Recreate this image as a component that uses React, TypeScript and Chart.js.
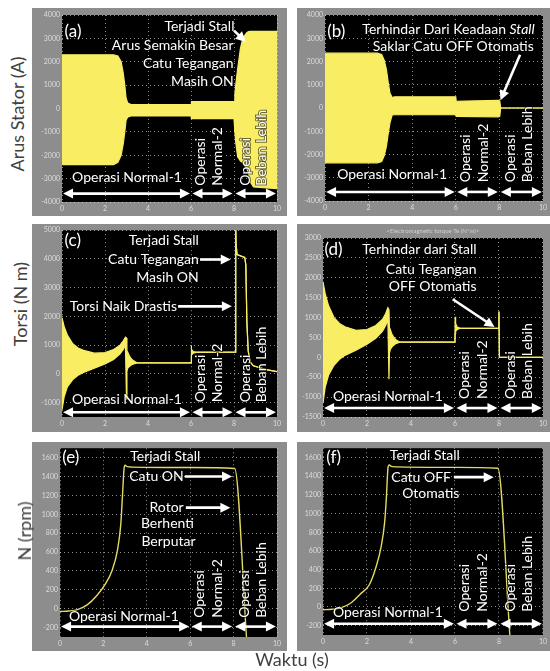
import React, { useEffect, useRef } from "react";
import { Chart, registerables } from "chart.js";
Chart.register(...registerables);

const YELLOW = "#f8ed63";
const FRAME = "#8d8d8d";
const TICK = "#dcdcdc";
const GRID = "rgba(255,255,255,0.55)";
const FONT = "Lato, 'Open Sans', sans-serif";

// ---- axis ticks ----
const xTicks = [0, 2, 4, 6, 8, 10];
const ticksCurrent = [-4000, -3000, -2000, -1000, 0, 1000, 2000, 3000, 4000];
const ticksTorqueC = [-1000, 0, 1000, 2000, 3000, 4000, 5000];
const ticksTorqueD = [-1500, -1000, -500, 0, 500, 1000, 1500, 2000, 2500, 3000];
const ticksSpeed = [-200, 0, 200, 400, 600, 800, 1000, 1200, 1400, 1600];

// ---- (a) stator current envelope, supply stays ON ----
const timeA = [0, 2.4, 2.6, 2.75, 2.85, 2.92, 2.98, 3.05, 3.2, 6.0, 6.02, 8.0, 8.04, 8.08, 8.17, 8.3, 8.37, 8.45, 8.6, 8.68, 8.76, 8.91, 10];
const upperA = [2300, 2300, 2250, 2000, 1500, 1000, 450, 250, 170, 170, 290, 290, 600, 1000, 1700, 2570, 2850, 3070, 3250, 3290, 3300, 3300, 3300];
const lowerA = [-2400, -2400, -2300, -2000, -1500, -1000, -500, -370, -320, -320, -430, -430, -1000, -1430, -2070, -2250, -2290, -2400, -2570, -2800, -3140, -3360, -3430];

// ---- (b) stator current envelope, supply OFF automatically ----
const timeB = [0, 2.4, 2.6, 2.72, 2.82, 2.9, 2.98, 3.08, 3.2, 6.0, 6.02, 7.95, 8.02, 8.06, 10];
const upperB = [2360, 2360, 2300, 2050, 1640, 1100, 640, 450, 480, 480, 290, 330, 300, 0, 0];
const lowerB = [-2360, -2360, -2300, -2050, -1640, -1100, -640, -300, -290, -290, -360, -380, -360, 0, 0];

// ---- (c) electromagnetic torque, supply stays ON ----
const timeC = [0, 0.1, 0.25, 0.5, 0.75, 1.0, 1.5, 2.0, 2.4, 2.7, 2.85, 2.95, 3.0, 3.02, 3.06, 3.12, 3.2, 3.3, 3.5, 6.0, 6.01, 6.03, 6.1, 6.25, 8.06, 8.08, 8.1, 8.14, 8.5, 8.55, 8.6, 8.66, 8.75, 8.9, 9.5, 10];
const upperC = [1950, 1650, 1350, 1050, 900, 820, 720, 740, 850, 1000, 1150, 1280, 1250, 800, 750, 650, 550, 470, 380, 380, 1000, 850, 780, 760, 760, 5200, 4500, 4150, 4050, 3800, 1800, 800, 420, 280, 150, 80];
const lowerC = [-1250, -800, -450, -200, -50, 50, 200, 350, 500, 700, 850, 1000, -870, 100, 200, 250, 300, 340, 380, 380, 600, 650, 720, 750, 760, 5200, 4500, 4150, 4050, 3800, 1800, 800, 420, 280, 150, 80];

// ---- (d) electromagnetic torque, supply OFF automatically ----
const timeD = [0, 0.1, 0.25, 0.5, 0.75, 1.0, 1.5, 2.0, 2.4, 2.7, 2.85, 2.95, 3.0, 3.02, 3.06, 3.12, 3.2, 3.3, 3.5, 6.0, 6.01, 6.03, 6.1, 6.25, 7.98, 8.0, 8.02, 10];
const upperD = [1900, 1600, 1300, 1000, 850, 770, 680, 700, 800, 950, 1100, 1250, 1200, 750, 700, 600, 520, 450, 380, 380, 1020, 850, 760, 730, 730, 1150, 0, 0];
const lowerD = [-1150, -750, -450, -200, -50, 50, 180, 330, 480, 650, 800, 950, -550, 100, 200, 250, 300, 340, 380, 380, 600, 650, 700, 730, 730, 1150, 0, 0];

// ---- (e) rotor speed, supply stays ON ----
const timeE = [0, 0.4, 0.8, 1.25, 1.7, 2.1, 2.4, 2.64, 2.8, 2.88, 2.95, 3.0, 3.1, 3.3, 6.0, 8.05, 8.6];
const speedE = [-30, -25, -10, 40, 140, 265, 405, 610, 890, 1200, 1480, 1520, 1505, 1500, 1495, 1485, -320];

// ---- (f) rotor speed, supply OFF automatically ----
const timeF = [0, 0.4, 0.8, 1.25, 1.7, 2.1, 2.4, 2.64, 2.8, 2.88, 2.96, 3.02, 3.1, 3.3, 6.0, 7.95, 8.5];
const speedF = [-30, -25, -10, 40, 140, 235, 420, 640, 900, 1165, 1500, 1520, 1505, 1500, 1495, 1485, -320];

type Ann =
  | { kind: "text"; x: number; y: number; text: string; align?: CanvasTextAlign; size?: number; italic?: string }
  | { kind: "vtext"; x: number; y: number; text: string }
  | { kind: "arrow"; x1: number; y1: number; x2: number; y2: number; both?: boolean };

const bottomAnn = (tx: number, ty: number, ay: number, vy: number): Ann[] => [
  { kind: "text", x: tx, y: ty, text: "Operasi Normal-1", align: "left" },
  { kind: "arrow", x1: 0.05, y1: ay, x2: 5.95, y2: ay, both: true },
  { kind: "arrow", x1: 6.07, y1: ay, x2: 7.93, y2: ay, both: true },
  { kind: "arrow", x1: 8.07, y1: ay, x2: 9.95, y2: ay, both: true },
  { kind: "vtext", x: 6.45, y: vy, text: "Operasi" },
  { kind: "vtext", x: 7.25, y: vy, text: "Normal-2" },
  { kind: "vtext", x: 8.52, y: vy, text: "Operasi" },
  { kind: "vtext", x: 9.3, y: vy, text: "Beban Lebih" },
];

type Panel = {
  left: number; top: number; w: number; h: number;
  yAxisW: number; padTop: number; padRight: number; xAxisH: number;
  yMin: number; yMax: number; yTicks: number[];
  time: number[]; upper: number[]; lower?: number[];
  ann: Ann[]; title?: string;
};

const panels: Panel[] = [
  {
    left: 32, top: 8, w: 255, h: 208, yAxisW: 30, padTop: 7, padRight: 10, xAxisH: 14,
    yMin: -4000, yMax: 4000, yTicks: ticksCurrent, time: timeA, upper: upperA, lower: lowerA,
    ann: [
      { kind: "text", x: 0.12, y: 3300, text: "(a)", align: "left", size: 17 },
      { kind: "text", x: 8.02, y: 3500, text: "Terjadi Stall", align: "right" },
      { kind: "text", x: 7.98, y: 2700, text: "Arus Semakin Besar", align: "right" },
      { kind: "text", x: 7.98, y: 1930, text: "Catu Tegangan", align: "right" },
      { kind: "text", x: 7.98, y: 1150, text: "Masih ON", align: "right" },
      { kind: "arrow", x1: 8.0, y1: 3330, x2: 8.55, y2: 2850 },
      ...bottomAnn(0.47, -2930, -3640, -3300),
    ],
  },
  {
    left: 297, top: 8, w: 253, h: 208, yAxisW: 28, padTop: 7, padRight: 5, xAxisH: 15,
    yMin: -4000, yMax: 4000, yTicks: ticksCurrent, time: timeB, upper: upperB, lower: lowerB,
    ann: [
      { kind: "text", x: 0.1, y: 3290, text: "(b)", align: "left", size: 17 },
      { kind: "text", x: 9.62, y: 3360, text: "Terhindar Dari Keadaan ", align: "right", italic: "Stall" },
      { kind: "text", x: 9.58, y: 2640, text: "Saklar Catu OFF Otomatis", align: "right" },
      { kind: "arrow", x1: 8.95, y1: 2290, x2: 8.05, y2: 330 },
      ...bottomAnn(0.56, -2860, -3610, -3190),
    ],
  },
  {
    left: 32, top: 224, w: 255, h: 208, yAxisW: 30, padTop: 6, padRight: 10, xAxisH: 15,
    yMin: -1500, yMax: 5000, yTicks: ticksTorqueC, time: timeC, upper: upperC, lower: lowerC,
    ann: [
      { kind: "text", x: 0.12, y: 4650, text: "(c)", align: "left", size: 17 },
      { kind: "text", x: 6.36, y: 4650, text: "Terjadi Stall", align: "right" },
      { kind: "text", x: 6.36, y: 3980, text: "Catu Tegangan", align: "right" },
      { kind: "arrow", x1: 6.42, y1: 3980, x2: 7.85, y2: 3980 },
      { kind: "text", x: 6.36, y: 3370, text: "Masih ON", align: "right" },
      { kind: "text", x: 5.35, y: 2350, text: "Torsi Naik Drastis", align: "right" },
      { kind: "arrow", x1: 5.4, y1: 2350, x2: 7.9, y2: 2350 },
      ...bottomAnn(0.47, -907, -1337, -990),
    ],
  },
  {
    left: 297, top: 224, w: 253, h: 208, yAxisW: 26, padTop: 14, padRight: 3, xAxisH: 15,
    yMin: -1500, yMax: 3000, yTicks: ticksTorqueD, time: timeD, upper: upperD, lower: lowerD,
    title: "<Electromagnetic torque Te (N*m)>",
    ann: [
      { kind: "text", x: 0.07, y: 2720, text: "(d)", align: "left", size: 17 },
      { kind: "text", x: 6.98, y: 2720, text: "Terhindar dari Stall", align: "right" },
      { kind: "text", x: 6.98, y: 2200, text: "Catu Tegangan", align: "right" },
      { kind: "text", x: 6.98, y: 1790, text: "OFF Otomatis", align: "right" },
      { kind: "arrow", x1: 5.9, y1: 1460, x2: 7.8, y2: 760 },
      ...bottomAnn(0.45, -990, -1275, -1045),
    ],
  },
  {
    left: 32, top: 442, w: 255, h: 209, yAxisW: 28, padTop: 3, padRight: 10, xAxisH: 14,
    yMin: -300, yMax: 1700, yTicks: ticksSpeed, time: timeE, upper: speedE,
    ann: [
      { kind: "text", x: 0.1, y: 1600, text: "(e)", align: "left", size: 17 },
      { kind: "text", x: 4.85, y: 1616, text: "Terjadi Stall", align: "center" },
      { kind: "text", x: 5.7, y: 1400, text: "Catu ON", align: "right" },
      { kind: "arrow", x1: 5.75, y1: 1400, x2: 7.93, y2: 1400 },
      { kind: "text", x: 5.7, y: 1070, text: "Rotor", align: "right" },
      { kind: "arrow", x1: 5.8, y1: 1070, x2: 7.85, y2: 1070 },
      { kind: "text", x: 4.95, y: 906, text: "Berhenti", align: "center" },
      { kind: "text", x: 5.0, y: 716, text: "Berputar", align: "center" },
      ...bottomAnn(0.41, -80, -190, -97),
    ],
  },
  {
    left: 297, top: 442, w: 253, h: 209, yAxisW: 26, padTop: 3, padRight: 3, xAxisH: 16,
    yMin: -300, yMax: 1700, yTicks: ticksSpeed, time: timeF, upper: speedF,
    ann: [
      { kind: "text", x: 0.15, y: 1600, text: "(f)", align: "left", size: 17 },
      { kind: "text", x: 4.63, y: 1620, text: "Terjadi Stall", align: "center" },
      { kind: "text", x: 5.82, y: 1390, text: "Catu OFF", align: "right" },
      { kind: "arrow", x1: 5.95, y1: 1390, x2: 7.76, y2: 1390 },
      { kind: "text", x: 4.9, y: 1220, text: "Otomatis", align: "center" },
      ...bottomAnn(0.45, -60, -180, -50),
    ],
  },
];

const bgPlugin = {
  id: "bgFrame",
  beforeDraw(chart: any) {
    const { ctx, chartArea: a, width, height } = chart;
    ctx.save();
    ctx.fillStyle = FRAME;
    ctx.fillRect(0, 0, width, height);
    ctx.fillStyle = "#000";
    ctx.fillRect(a.left, a.top, a.right - a.left, a.bottom - a.top);
    ctx.restore();
  },
};

function drawHead(ctx: CanvasRenderingContext2D, x: number, y: number, ang: number) {
  const L = 10, W = 5;
  const c = Math.cos(ang), s = Math.sin(ang);
  ctx.beginPath();
  ctx.moveTo(x, y);
  ctx.lineTo(x - L * c + W * s, y - L * s - W * c);
  ctx.lineTo(x - L * c - W * s, y - L * s + W * c);
  ctx.closePath();
  ctx.fill();
}

function makeAnnPlugin(p: Panel) {
  return {
    id: "annots",
    afterDraw(chart: any) {
      const { ctx, chartArea: a } = chart;
      const xs = chart.scales.x, ys = chart.scales.y;
      ctx.save();
      if (p.title) {
        ctx.font = `6px ${FONT}`;
        ctx.fillStyle = "#d0d0d0";
        ctx.textAlign = "center";
        ctx.textBaseline = "middle";
        ctx.fillText(p.title, (a.left + a.right) / 2, a.top - 7);
      }
      for (const n of p.ann) {
        ctx.fillStyle = "#fff";
        if (n.kind === "arrow") {
          const x1 = xs.getPixelForValue(n.x1), y1 = ys.getPixelForValue(n.y1);
          const x2 = xs.getPixelForValue(n.x2), y2 = ys.getPixelForValue(n.y2);
          const ang = Math.atan2(y2 - y1, x2 - x1);
          const c = Math.cos(ang), s = Math.sin(ang);
          ctx.strokeStyle = "#fff";
          ctx.lineWidth = 2.6;
          ctx.lineCap = "butt";
          ctx.beginPath();
          ctx.moveTo(n.both ? x1 + 6 * c : x1, n.both ? y1 + 6 * s : y1);
          ctx.lineTo(x2 - 6 * c, y2 - 6 * s);
          ctx.stroke();
          drawHead(ctx, x2, y2, ang);
          if (n.both) drawHead(ctx, x1, y1, ang + Math.PI);
        } else if (n.kind === "text") {
          const size = n.size || 14;
          const x = xs.getPixelForValue(n.x), y = ys.getPixelForValue(n.y);
          ctx.textBaseline = "middle";
          ctx.font = `${size}px ${FONT}`;
          const w1 = ctx.measureText(n.text).width;
          let w2 = 0;
          if (n.italic) {
            ctx.font = `italic ${size}px ${FONT}`;
            w2 = ctx.measureText(n.italic).width;
          }
          const total = w1 + w2;
          const align = n.align || "left";
          let sx = x;
          if (align === "right") sx = x - total;
          else if (align === "center") sx = x - total / 2;
          ctx.textAlign = "left";
          ctx.lineWidth = 1.5;
          ctx.strokeStyle = "rgba(0,0,0,0.4)";
          ctx.font = `${size}px ${FONT}`;
          ctx.strokeText(n.text, sx, y);
          ctx.fillText(n.text, sx, y);
          if (n.italic) {
            ctx.font = `italic ${size}px ${FONT}`;
            ctx.strokeText(n.italic, sx + w1, y);
            ctx.fillText(n.italic, sx + w1, y);
          }
        } else {
          const x = xs.getPixelForValue(n.x), y = ys.getPixelForValue(n.y);
          ctx.save();
          ctx.translate(x, y);
          ctx.rotate(-Math.PI / 2);
          ctx.font = `14px ${FONT}`;
          ctx.textAlign = "left";
          ctx.textBaseline = "middle";
          ctx.lineWidth = 2;
          ctx.strokeStyle = "rgba(0,0,0,0.55)";
          ctx.strokeText(n.text, 0, 0);
          ctx.fillText(n.text, 0, 0);
          ctx.restore();
        }
      }
      ctx.restore();
    },
  };
}

function buildChart(canvas: HTMLCanvasElement, p: Panel) {
  const datasets: any[] = [];
  if (p.lower) {
    datasets.push({
      data: p.time.map((t, i) => ({ x: t, y: p.upper[i] })),
      borderColor: YELLOW, backgroundColor: YELLOW, borderWidth: 1.2,
      pointRadius: 0, fill: "+1", tension: 0,
    });
    datasets.push({
      data: p.time.map((t, i) => ({ x: t, y: (p.lower as number[])[i] })),
      borderColor: YELLOW, borderWidth: 1.2, pointRadius: 0, fill: false, tension: 0,
    });
  } else {
    datasets.push({
      data: p.time.map((t, i) => ({ x: t, y: p.upper[i] })),
      borderColor: "#e4da62", borderWidth: 1.4, pointRadius: 0, fill: false,
      cubicInterpolationMode: "monotone",
    });
  }
  const fmt = (v: any) => String(v);
  return new Chart(canvas, {
    type: "line",
    data: { datasets },
    options: {
      animation: false,
      responsive: false,
      maintainAspectRatio: false,
      layout: { padding: { top: p.padTop, right: p.padRight, left: 0, bottom: 0 } },
      plugins: { legend: { display: false }, tooltip: { enabled: false }, title: { display: false } },
      scales: {
        x: {
          type: "linear", min: 0, max: 10,
          afterBuildTicks: (s: any) => { s.ticks = xTicks.map((v) => ({ value: v })); },
          afterFit: (s: any) => { s.height = p.xAxisH; },
          ticks: { color: TICK, font: { size: 7, family: FONT }, padding: 3, maxRotation: 0, autoSkip: false, callback: fmt },
          grid: { color: GRID, drawTicks: false, lineWidth: 1 },
          border: { display: false, dash: [1, 3] },
        },
        y: {
          type: "linear", min: p.yMin, max: p.yMax,
          afterBuildTicks: (s: any) => { s.ticks = p.yTicks.map((v) => ({ value: v })); },
          afterFit: (s: any) => { s.width = p.yAxisW; },
          ticks: { color: TICK, font: { size: 7, family: FONT }, padding: 2, autoSkip: false, callback: fmt },
          grid: { color: GRID, drawTicks: false, lineWidth: 1 },
          border: { display: false, dash: [1, 3] },
        },
      },
    } as any,
    plugins: [bgPlugin, makeAnnPlugin(p)],
  });
}

function PanelChart({ p }: { p: Panel }) {
  const ref = useRef<HTMLCanvasElement | null>(null);
  useEffect(() => {
    if (!ref.current) return;
    const c = buildChart(ref.current, p);
    return () => c.destroy();
  }, [p]);
  return (
    <div style={{ position: "absolute", left: p.left, top: p.top, width: p.w, height: p.h }}>
      <canvas ref={ref} width={p.w} height={p.h} style={{ width: p.w, height: p.h, display: "block" }} />
    </div>
  );
}

const sideLabel = (text: string, cx: number, cy: number) => (
  <div
    key={text}
    style={{
      position: "absolute", left: cx, top: cy, transform: "translate(-50%, -50%) rotate(-90deg)",
      whiteSpace: "nowrap", font: `18px ${FONT}`, color: "#404040",
    }}
  >
    {text}
  </div>
);

export default function App() {
  useEffect(() => {
    document.body.style.margin = "0";
  }, []);
  return (
    <div style={{ position: "absolute", left: 0, top: 0, width: 550, height: 671, background: "#fff", overflow: "hidden" }}>
      {panels.map((p, i) => (
        <PanelChart key={i} p={p} />
      ))}
      {sideLabel("Arus Stator (A)", 17, 114)}
      {sideLabel("Torsi (N m)", 20, 304)}
      {sideLabel("N (rpm)", 24, 531)}
      <div
        style={{
          position: "absolute", left: 292, top: 659, transform: "translate(-50%, -50%)",
          whiteSpace: "nowrap", font: `18px ${FONT}`, color: "#404040",
        }}
      >
        Waktu (s)
      </div>
    </div>
  );
}
